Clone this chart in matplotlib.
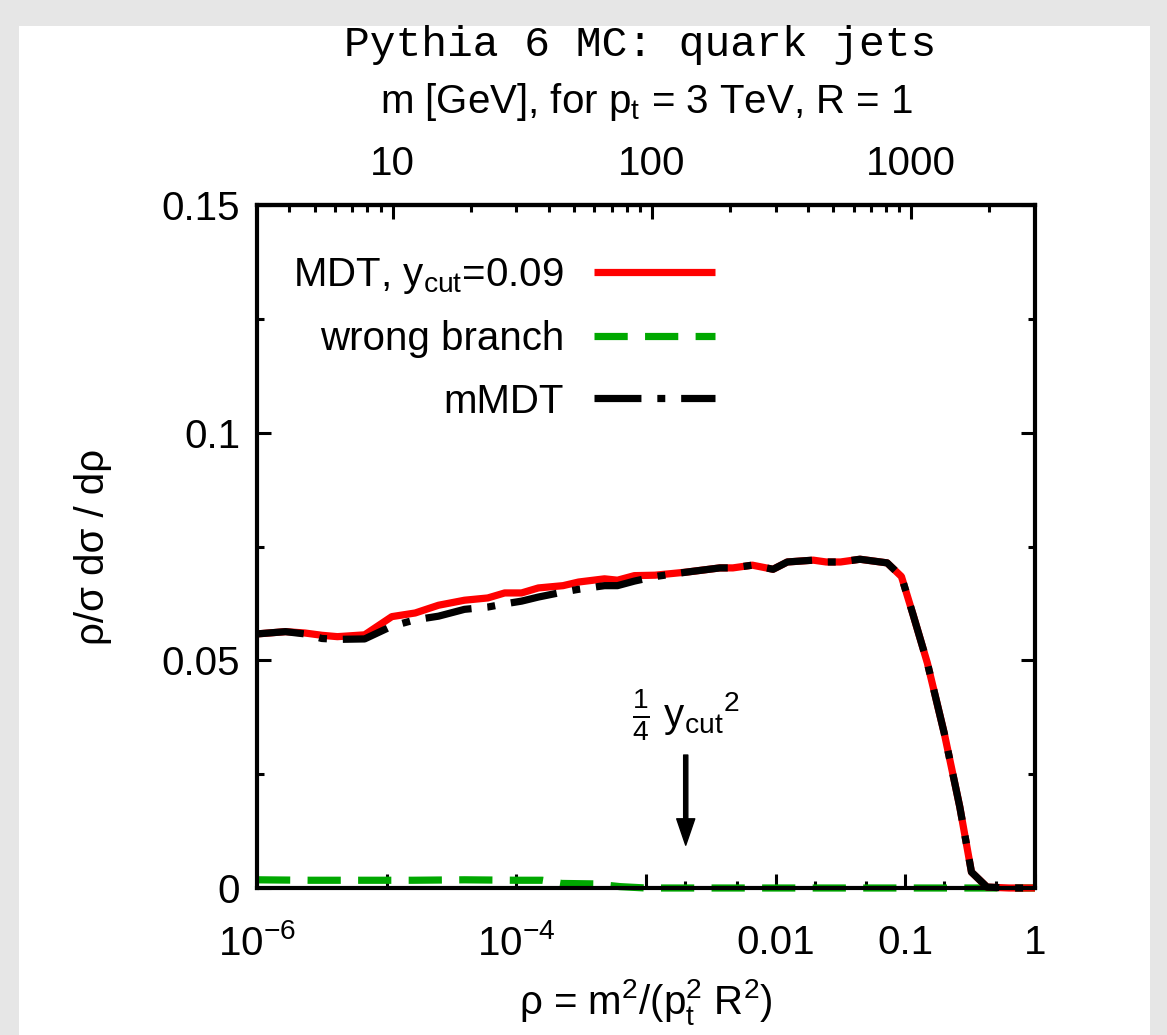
import numpy as np
import matplotlib
matplotlib.use("Agg")
import matplotlib.pyplot as plt
from matplotlib.patches import Rectangle
from matplotlib.ticker import FixedLocator, FixedFormatter, NullFormatter, FuncFormatter

plt.rcParams['font.family'] = ['Liberation Sans', 'DejaVu Sans']
plt.rcParams['mathtext.fontset'] = 'custom'
plt.rcParams['mathtext.rm'] = 'Liberation Sans'
plt.rcParams['mathtext.it'] = 'Liberation Sans'
plt.rcParams['mathtext.bf'] = 'Liberation Sans:bold'
plt.rcParams['mathtext.default'] = 'regular'

# ---- data (log10 rho, rho/sigma dsigma/drho)
log_rho = [-6.00, -5.78, -5.63, -5.50, -5.38, -5.17, -4.96, -4.78, -4.60, -4.40,
           -4.22, -4.09, -3.96, -3.83, -3.64, -3.52, -3.32, -3.22, -3.09, -2.93,
           -2.68, -2.43, -2.33, -2.18, -2.02, -1.91, -1.71, -1.61, -1.50, -1.35,
           -1.14, -1.03, -0.94, -0.83, -0.70, -0.58, -0.49, -0.37, -0.20, 0.00]
mdt = [0.0558, 0.0563, 0.0560, 0.0555, 0.0552, 0.0556, 0.0596, 0.0604, 0.0621, 0.0632,
       0.0637, 0.0648, 0.0648, 0.0659, 0.0664, 0.0672, 0.0679, 0.0676, 0.0686, 0.0687,
       0.0694, 0.0703, 0.0703, 0.0709, 0.0700, 0.0716, 0.0720, 0.0716, 0.0716, 0.0722,
       0.0714, 0.0684, 0.0600, 0.0494, 0.0340, 0.0178, 0.0035, 0.0002, 0.0, 0.0]
mmdt = [0.0558, 0.0563, 0.0558, 0.0548, 0.0546, 0.0547, 0.0575, 0.0589, 0.0597, 0.0612,
        0.0617, 0.0624, 0.0630, 0.0639, 0.0650, 0.0656, 0.0664, 0.0664, 0.0674, 0.0684,
        0.0694, 0.0703, 0.0703, 0.0709, 0.0700, 0.0716, 0.0720, 0.0716, 0.0716, 0.0722,
        0.0714, 0.0684, 0.0600, 0.0494, 0.0340, 0.0178, 0.0035, 0.0002, 0.0, 0.0]

log_rho_wrong = [-6.0, -5.6, -5.2, -4.8, -4.4, -4.0, -3.8, -3.65, -3.4, -3.2, -3.0, -2.5, -2.0, -1.0, 0.0]
wrong = [0.0018, 0.0017, 0.0017, 0.0017, 0.0018, 0.0017, 0.0017, 0.0010, 0.0009, 0.0003, 0.0, 0.0, 0.0, 0.0, 0.0]

ycut = 0.09
pt_gev = 3000.0

x_major = [1e-6, 1e-5, 1e-4, 1e-3, 1e-2, 1e-1, 1.0]
x_major_labels = ['$10^{-6}$', '', '$10^{-4}$', '', '0.01', '0.1', '1']
x_minor = [2e-3, 5e-3, 2e-2, 5e-2, 0.2, 0.5]
y_major = [0, 0.05, 0.1, 0.15]
y_major_labels = ['0', '0.05', '0.1', '0.15']
y_minor = [0.025, 0.075, 0.125]
m_major = [10, 100, 1000]
m_minor = [4, 5, 6, 7, 8, 9, 20, 30, 40, 50, 60, 70, 80, 90,
           200, 300, 400, 500, 600, 700, 800, 900, 2000]

W, H = 1167, 1035
FS = 29

fig = plt.figure(figsize=(W / 100, H / 100), dpi=100)
fig.patch.set_facecolor('#e6e6e6')
fig.add_artist(Rectangle((19 / W, 0), (1150 - 19) / W, 1 - 26 / H,
                         transform=fig.transFigure, facecolor='white',
                         edgecolor='none', zorder=0))

ax = fig.add_axes([257 / W, (H - 888) / H, 778 / W, 683 / H])
ax.set_facecolor('white')
ax.set_xscale('log')
ax.set_xlim(1e-6, 1)
ax.set_ylim(0, 0.15)

rho = 10 ** np.array(log_rho)
rho_wrong = 10 ** np.array(log_rho_wrong)

lw = 5.2
ax.plot(rho, mdt, color='#ff0000', lw=lw, solid_capstyle='butt',
        label='MDT, y$_{cut}$=0.09', clip_on=False, zorder=2)
l_wrong, = ax.plot(rho_wrong, wrong, color='#00a800', lw=lw, dash_capstyle='butt',
                   label='wrong branch', clip_on=False, zorder=1.9)
l_wrong.set_dashes((4.6, 2.4))
l_mmdt, = ax.plot(rho, mmdt, color='black', lw=lw, dash_capstyle='butt',
                  label='mMDT', clip_on=False, zorder=2.1)
l_mmdt.set_dashes((6.5, 2.2, 1.1, 2.2))

for s in ax.spines.values():
    s.set_linewidth(3)
    s.set_zorder(3)

ax.xaxis.set_major_locator(FixedLocator(x_major))
ax.xaxis.set_major_formatter(FixedFormatter(x_major_labels))
ax.xaxis.set_minor_locator(FixedLocator(x_minor))
ax.xaxis.set_minor_formatter(NullFormatter())
ax.yaxis.set_major_locator(FixedLocator(y_major))
ax.yaxis.set_major_formatter(FixedFormatter(y_major_labels))
ax.yaxis.set_minor_locator(FixedLocator(y_minor))
ax.yaxis.set_minor_formatter(NullFormatter())

ax.tick_params(which='both', direction='in', width=2.2, top=False, right=True,
               labelsize=FS)
ax.tick_params(which='major', length=10)
ax.tick_params(which='minor', length=5)
ax.tick_params(axis='x', which='major', pad=26)
ax.tick_params(axis='y', which='major', pad=12)

# top axis: jet mass for pt = 3 TeV, R = 1
def rho_to_m(r):
    return pt_gev * np.sqrt(np.clip(r, 1e-30, None))

def m_to_rho(m):
    return (np.asarray(m) / pt_gev) ** 2

sec = ax.secondary_xaxis('top', functions=(rho_to_m, m_to_rho))
sec.xaxis.set_major_locator(FixedLocator(m_major))
sec.xaxis.set_major_formatter(FuncFormatter(lambda v, p: f'{v:g}'))
sec.xaxis.set_minor_locator(FixedLocator(m_minor))
sec.xaxis.set_minor_formatter(NullFormatter())
sec.tick_params(which='both', direction='in', width=2.2, labelsize=FS)
sec.tick_params(which='major', length=10, pad=16)
sec.tick_params(which='minor', length=5)
sec.spines['top'].set_linewidth(3)
sec.set_xlabel('m [GeV], for p$_t$ = 3 TeV, R = 1', fontsize=FS, labelpad=23)

ax.set_xlabel(r'ρ = m$^2$/(p$_t^2$ R$^2$)', fontsize=FS, labelpad=10)
ax.set_ylabel('ρ/σ dσ / dρ', fontsize=FS, labelpad=36)

fig.text(640 / W, 1 - 45 / H, 'Pythia 6 MC: quark jets', family='Liberation Mono',
         fontsize=31, ha='center', va='center')

leg = ax.legend(loc='upper right', bbox_to_anchor=(0.5887, 0.925), frameon=False,
                markerfirst=False, fontsize=FS, handlelength=3.0, handletextpad=0.75,
                borderpad=0, borderaxespad=0, labelspacing=0.6)

# 1/4 ycut^2 marker
rho_cut = ycut ** 2 / 4
ax.annotate('', xy=(rho_cut, 0.0094), xytext=(rho_cut, 0.0292),
            arrowprops=dict(facecolor='black', edgecolor='black', width=3,
                            headwidth=13, headlength=19, shrink=0))
ax.text(rho_cut, 0.038, r'$\frac{1}{4}\ y_{cut}{}^{2}$', fontsize=FS,
        ha='center', va='center')

fig.savefig('out.png', dpi=100, facecolor=fig.get_facecolor())
